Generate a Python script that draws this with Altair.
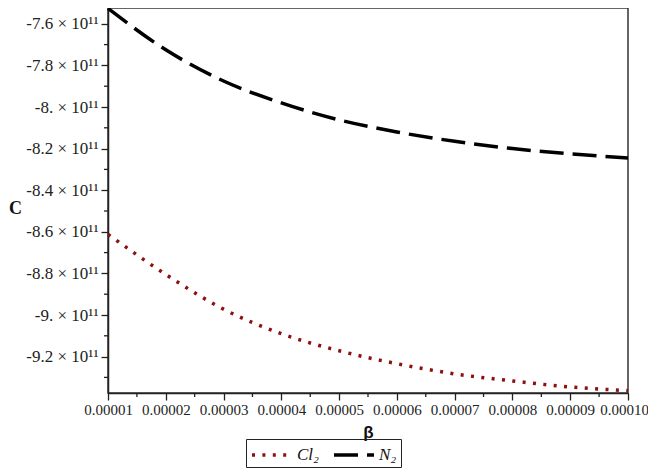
import altair as alt
import pandas as pd

# data
beta = [0.00001, 0.00002, 0.00003, 0.00004, 0.00005,
        0.00006, 0.00007, 0.00008, 0.00009, 0.00010]
c_n2 = [-7.526e11, -7.725e11, -7.875e11, -7.980e11, -8.062e11,
        -8.120e11, -8.165e11, -8.200e11, -8.225e11, -8.245e11]
c_cl2 = [-8.612e11, -8.805e11, -8.972e11, -9.090e11, -9.172e11,
         -9.234e11, -9.283e11, -9.317e11, -9.346e11, -9.364e11]
series = ["Cl₂", "N₂"]
colors = ["#8b1010", "#000000"]
dashes = [[3, 7.4], [24, 9]]

x_major = [0.00001, 0.00002, 0.00003, 0.00004, 0.00005,
           0.00006, 0.00007, 0.00008, 0.00009, 0.0001]
x_minor = [0.000015, 0.000025, 0.000035, 0.000045, 0.000055,
           0.000065, 0.000075, 0.000085, 0.000095]
y_major = [-9.2e11, -9.0e11, -8.8e11, -8.6e11, -8.4e11,
           -8.2e11, -8.0e11, -7.8e11, -7.6e11]
y_minor = [-9.3e11, -9.1e11, -8.9e11, -8.7e11, -8.5e11,
           -8.3e11, -8.1e11, -7.9e11, -7.7e11]
x_domain = [0.00001, 0.0001]
y_domain = [-9.375e11, -7.524e11]

W, H = 520, 385

df = pd.concat([
    pd.DataFrame({"beta": beta, "C": c_cl2, "series": series[0]}),
    pd.DataFrame({"beta": beta, "C": c_n2, "series": series[1]}),
])
df_xm = pd.DataFrame({"beta": x_minor})
df_ym = pd.DataFrame({"C": y_minor})

serif = "Liberation Serif"

x_axis = alt.Axis(
    values=x_major,
    format=".5f",
    ticks=True, tickSize=7,
    labelOffset={"condition": {"test": "datum.value > 0.000099", "value": -4}, "value": 0},
    labelFont=serif, labelFontSize=15, labelColor="#222",
    labelOverlap=False, labelFlush=False, labelPadding=2,
    tickColor="#222", tickWidth=1.3, domainColor="#222", domainWidth=1.5,
    grid=False,
    title="β", titleFont="Liberation Sans", titleFontWeight="bold",
    titleFontSize=17, titleColor="#111", titleY=39, titleBaseline="middle",
)
y_axis = alt.Axis(
    values=y_major,
    labelExpr=("replace(replace(format(datum.value/1e11, '.1f'), '−', '-'), '.0', '.')"
               " + ' × 10¹¹'"),
    ticks=True, tickSize=7,
    labelFont=serif, labelFontSize=17, labelColor="#222",
    labelOverlap=False, labelPadding=3,
    tickColor="#222", tickWidth=1.3, domainColor="#222", domainWidth=1.5,
    grid=False,
    title="C", titleFont=serif, titleFontWeight="bold", titleFontSize=18,
    titleColor="#111", titleAngle=0, titleX=-93, titleY=200,
    titleAlign="center", titleBaseline="middle",
)
xs = alt.Scale(domain=x_domain, nice=False, zero=False)
ys = alt.Scale(domain=y_domain, nice=False, zero=False)

legend = alt.Legend(
    title=None, orient="none", legendX=138, legendY=431,
    direction="horizontal", symbolType="M-1,0H3",
    symbolSize=400, symbolStrokeWidth=3.5, symbolFillColor="transparent",
    labelFont=serif, labelFontStyle="italic",
    labelFontSize=17, labelColor="#111", labelOffset=23,
    strokeColor="#222", padding=4, columnPadding=8,
)

lines = alt.Chart(df).mark_line(
    strokeWidth=3.5, strokeCap="butt", interpolate="monotone"
).encode(
    x=alt.X("beta:Q", scale=xs, axis=x_axis),
    y=alt.Y("C:Q", scale=ys, axis=y_axis),
    color=alt.Color("series:N", scale=alt.Scale(domain=series, range=colors), legend=legend),
    strokeDash=alt.StrokeDash("series:N", scale=alt.Scale(domain=series, range=dashes), legend=legend),
)

x_minor_ticks = alt.Chart(df_xm).mark_rule(color="#222", strokeWidth=1.3).encode(
    x=alt.X("beta:Q", scale=xs, axis=x_axis),
    y=alt.value(H),
    y2=alt.value(H + 4),
)
y_minor_ticks = alt.Chart(df_ym).mark_rule(color="#222", strokeWidth=1.3).encode(
    y=alt.Y("C:Q", scale=ys, axis=y_axis),
    x=alt.value(0),
    x2=alt.value(-4),
)

chart = alt.layer(lines, x_minor_ticks, y_minor_ticks).properties(
    width=W, height=H,
    autosize=alt.AutoSizeParams(type="none"),
    padding={"left": 100, "top": 0, "right": 20, "bottom": 75},
).configure_view(
    stroke="#333", strokeWidth=1.5,
)

chart.save("out.html", embed_options={"renderer": "svg", "actions": False})
